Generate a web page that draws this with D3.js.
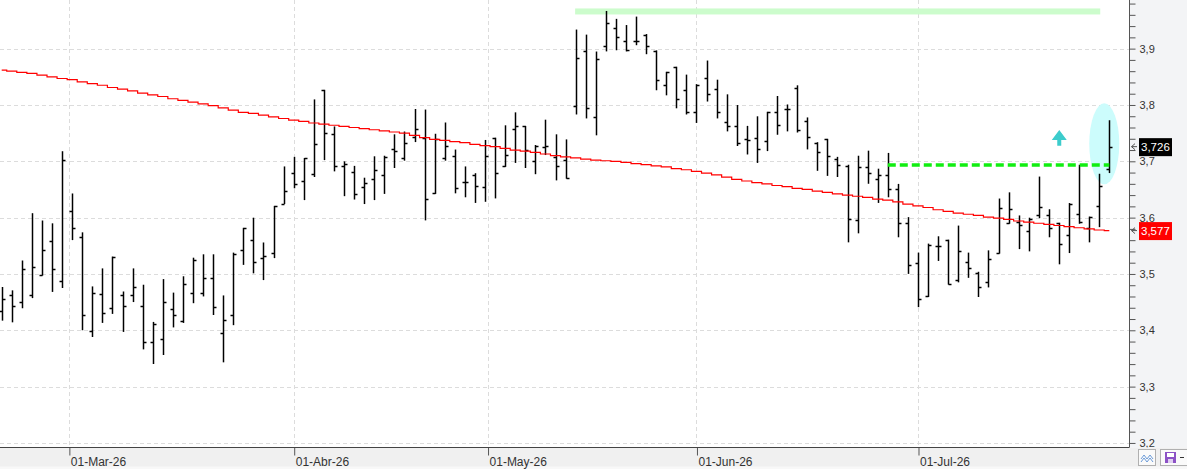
<!DOCTYPE html>
<html>
<head>
<meta charset="utf-8">
<script src="https://cdn.jsdelivr.net/npm/d3@7"></script>
<style>
  body { margin: 0; background: #fff; }
  svg { display: block; font-family: "Liberation Sans", Arial, sans-serif; }
</style>
</head>
<body>
<svg id="chart" width="1187" height="469"></svg>
<script>
// daily OHLC, one entry per trading day (19-Feb-26 .. 28-Jul-26)
var opens = [
  3.434,3.462,3.451,3.462,3.499,3.559,3.487,3.612,3.565,3.399,
  3.464,3.439,3.462,3.462,3.443,3.379,3.384,3.437,3.416,3.466,
  3.466,3.493,3.395,3.428,3.543,3.561,3.529,3.538,3.625,3.680,
  3.665,3.677,3.826,3.748,3.692,3.681,3.654,3.668,3.675,3.722,
  3.705,3.744,3.741,3.643,3.705,3.709,3.663,3.675,3.654,3.741,
  3.691,3.757,3.762,3.701,3.725,3.708,3.702,3.799,3.895,3.779,
  3.905,3.937,3.914,3.914,3.924,3.896,3.836,3.867,3.827,3.788,
  3.847,3.828,3.770,3.762,3.740,3.742,3.736,3.788,3.792,3.831,
  3.771,3.733,3.739,3.704,3.692,3.595,3.689,3.668,3.676,3.651,
  3.590,3.519,3.460,3.550,3.560,3.489,3.522,3.502,3.486,3.537,
  3.590,3.593,3.577,3.604,3.604,3.590,3.570,3.606,3.582,3.620,
  3.686];
var highs = [
  3.476,3.470,3.523,3.607,3.594,3.589,3.717,3.642,3.573,3.477,
  3.509,3.530,3.468,3.509,3.480,3.414,3.490,3.466,3.495,3.528,
  3.534,3.534,3.461,3.537,3.581,3.599,3.555,3.620,3.690,3.707,
  3.705,3.809,3.826,3.761,3.699,3.691,3.670,3.708,3.709,3.747,
  3.752,3.792,3.791,3.748,3.768,3.720,3.690,3.678,3.737,3.741,
  3.763,3.786,3.762,3.728,3.773,3.747,3.738,3.933,3.924,3.894,
  3.966,3.952,3.941,3.956,3.925,3.896,3.858,3.867,3.853,3.836,
  3.878,3.844,3.818,3.799,3.762,3.779,3.787,3.815,3.800,3.834,
  3.777,3.733,3.739,3.707,3.693,3.709,3.718,3.686,3.714,3.659,
  3.600,3.537,3.553,3.566,3.560,3.585,3.537,3.503,3.541,3.633,
  3.644,3.603,3.599,3.672,3.614,3.590,3.625,3.693,3.601,3.677,
  3.772];
var lows = [
  3.418,3.415,3.440,3.458,3.498,3.469,3.476,3.561,3.401,3.389,
  3.414,3.430,3.398,3.451,3.367,3.341,3.357,3.406,3.414,3.449,
  3.461,3.428,3.344,3.410,3.517,3.502,3.490,3.529,3.625,3.653,
  3.632,3.673,3.703,3.683,3.639,3.633,3.625,3.632,3.643,3.689,
  3.702,3.735,3.596,3.643,3.702,3.644,3.637,3.627,3.629,3.635,
  3.691,3.698,3.689,3.678,3.712,3.667,3.670,3.784,3.777,3.747,
  3.896,3.898,3.896,3.907,3.891,3.827,3.818,3.795,3.784,3.769,
  3.807,3.777,3.754,3.728,3.713,3.698,3.719,3.748,3.754,3.752,
  3.722,3.684,3.675,3.673,3.557,3.573,3.661,3.627,3.637,3.566,
  3.501,3.442,3.460,3.524,3.482,3.486,3.494,3.460,3.477,3.537,
  3.590,3.545,3.541,3.600,3.566,3.518,3.538,3.590,3.557,3.584,
  3.680];
var closes = [
  3.456,3.443,3.508,3.512,3.543,3.509,3.702,3.581,3.427,3.466,
  3.430,3.530,3.444,3.477,3.379,3.412,3.451,3.427,3.483,3.525,
  3.493,3.441,3.418,3.535,3.581,3.521,3.531,3.620,3.648,3.659,
  3.705,3.731,3.750,3.692,3.695,3.642,3.661,3.685,3.708,3.718,
  3.733,3.757,3.633,3.739,3.727,3.652,3.664,3.657,3.709,3.679,
  3.712,3.763,3.720,3.728,3.728,3.691,3.670,3.884,3.794,3.881,
  3.946,3.921,3.897,3.914,3.904,3.844,3.858,3.810,3.788,3.836,
  3.820,3.788,3.763,3.733,3.737,3.722,3.787,3.765,3.792,3.755,
  3.743,3.717,3.709,3.693,3.597,3.689,3.679,3.676,3.651,3.590,
  3.516,3.455,3.551,3.550,3.482,3.541,3.510,3.477,3.526,3.617,
  3.615,3.587,3.597,3.619,3.582,3.553,3.624,3.593,3.601,3.657,
  3.726];
// long moving average
var movingAvg = [
  3.862,3.860,3.858,3.856,3.853,3.850,3.847,3.845,3.841,3.838,
  3.835,3.831,3.828,3.825,3.821,3.818,3.815,3.811,3.808,3.805,
  3.802,3.799,3.795,3.791,3.787,3.785,3.782,3.779,3.776,3.773,
  3.771,3.768,3.766,3.764,3.762,3.760,3.758,3.756,3.754,3.752,
  3.750,3.746,3.742,3.739,3.737,3.735,3.733,3.730,3.728,3.726,
  3.723,3.720,3.718,3.716,3.713,3.710,3.708,3.706,3.704,3.702,
  3.701,3.700,3.698,3.696,3.694,3.692,3.690,3.687,3.685,3.682,
  3.679,3.676,3.672,3.668,3.665,3.662,3.660,3.657,3.655,3.652,
  3.650,3.647,3.645,3.642,3.640,3.638,3.636,3.633,3.631,3.628,
  3.624,3.621,3.618,3.614,3.611,3.608,3.606,3.604,3.601,3.599,
  3.597,3.594,3.592,3.590,3.588,3.586,3.584,3.582,3.580,3.578,
  3.577];

// month ticks, as (fractional) trading-day index
var monthTicks = [6.67, 29, 48.25, 69, 91];
var monthLabels = ['01-Mar-26', '01-Abr-26', '01-May-26', '01-Jun-26', '01-Jul-26'];
var priceGrid = [3.2, 3.3, 3.4, 3.5, 3.6, 3.7, 3.8, 3.9];

// drawn annotations
var resistance = { level: 3.966, from: 56.95, to: 109.1 };
var breakout = { level: 3.6935, from: 88, to: 110 };
var upArrow = { at: 105.03, level: 3.7556 };
var lastBarMark = { at: 109.5, level: 3.731 };
var lastPrice = 3.726;
var lastAvg = 3.577;

var W = 1187, H = 469;
var plotRight = 1129.5, plotBottom = 447.5;

var svg = d3.select('#chart');

var x = d3.scaleLinear().domain([0, 110]).range([1.7, 1109.3]);
var y = d3.scaleLinear().domain([3.2, 3.9]).range([442.95, 48.64]);
var fmt = function(v, d) { return v.toFixed(d).replace('.', ','); };

svg.append('rect').attr('width', W).attr('height', H).attr('fill', '#ffffff');

// grid
var grid = svg.append('g')
    .attr('stroke', '#dcdcdc')
    .attr('stroke-dasharray', '4,3')
    .attr('shape-rendering', 'crispEdges');
grid.selectAll('.hg').data(priceGrid).enter().append('line')
    .attr('x1', 0).attr('x2', plotRight)
    .attr('y1', function(d) { return Math.round(y(d)) + 0.5; })
    .attr('y2', function(d) { return Math.round(y(d)) + 0.5; });
grid.selectAll('.vg').data(monthTicks).enter().append('line')
    .attr('y1', 0).attr('y2', plotBottom)
    .attr('x1', function(d) { return Math.round(x(d)) + 0.5; })
    .attr('x2', function(d) { return Math.round(x(d)) + 0.5; });

// resistance band
svg.append('rect')
    .attr('x', x(resistance.from))
    .attr('y', y(resistance.level) - 3)
    .attr('width', x(resistance.to) - x(resistance.from))
    .attr('height', 6)
    .attr('fill', '#ccfccc');

// highlight round the last bar
svg.append('ellipse')
    .attr('cx', x(lastBarMark.at))
    .attr('cy', y(lastBarMark.level))
    .attr('rx', 15).attr('ry', 40.5)
    .attr('fill', '#ccfcfc');

// OHLC bars
var bars = svg.append('g').attr('stroke', '#000').attr('stroke-width', 1.5);
d3.range(opens.length).forEach(function(i) {
    var xi = Math.round(x(i)) + 0.5;
    bars.append('line').attr('x1', xi).attr('x2', xi)
        .attr('y1', y(highs[i]) - 0.5).attr('y2', y(lows[i]) + 0.5);
    bars.append('line').attr('x1', xi - 3).attr('x2', xi)
        .attr('y1', Math.round(y(opens[i])) + 0.5).attr('y2', Math.round(y(opens[i])) + 0.5);
    bars.append('line').attr('x1', xi).attr('x2', xi + 3)
        .attr('y1', Math.round(y(closes[i])) + 0.5).attr('y2', Math.round(y(closes[i])) + 0.5);
});

// moving average (stepped)
var maLine = d3.line()
    .x(function(d, i) { return x(i); })
    .y(function(d) { return y(d); })
    .curve(d3.curveStep);
svg.append('path')
    .datum(movingAvg)
    .attr('d', maLine)
    .attr('fill', 'none')
    .attr('stroke', '#ff0000')
    .attr('stroke-width', 1.2);

// breakout line
svg.append('line')
    .attr('x1', x(breakout.from)).attr('x2', x(breakout.to))
    .attr('y1', y(breakout.level)).attr('y2', y(breakout.level))
    .attr('stroke', '#11ee11')
    .attr('stroke-width', 3.5)
    .attr('stroke-dasharray', '8,4');

// up arrow
var ax = x(upArrow.at), ay = y(upArrow.level);
svg.append('path')
    .attr('d', 'M' + ax + ',' + ay + ' L' + (ax + 7.5) + ',' + (ay + 10) + ' L' + (ax + 2) + ',' + (ay + 10) +
        ' L' + (ax + 2) + ',' + (ay + 15.7) + ' L' + (ax - 2) + ',' + (ay + 15.7) + ' L' + (ax - 2) + ',' + (ay + 10) +
        ' L' + (ax - 7.5) + ',' + (ay + 10) + 'Z')
    .attr('fill', '#3ccccc');

// right axis panel
svg.append('rect').attr('x', plotRight + 0.5).attr('y', 0)
    .attr('width', W - plotRight).attr('height', plotBottom)
    .attr('fill', '#f3f4f6');

var minorTicks = d3.range(0, 40).map(function(k) { return 3.2 + k * 0.02; });
var yAxis = d3.axisRight(y)
    .tickValues(minorTicks)
    .tickSize(6)
    .tickPadding(4)
    .tickFormat(function(d) {
        var r = Math.round(d * 100);
        return r % 10 === 0 ? fmt(d, 1) : '';
    });
var yg = svg.append('g')
    .attr('transform', 'translate(' + plotRight + ',0)')
    .call(yAxis);
yg.select('.domain').remove();
yg.selectAll('line').attr('stroke', '#555');
yg.selectAll('text').attr('font-size', 11).attr('fill', '#333')
    .attr('font-family', '"Liberation Sans", Arial, sans-serif');
svg.append('line')
    .attr('x1', plotRight).attr('x2', plotRight)
    .attr('y1', 0).attr('y2', plotBottom)
    .attr('stroke', '#555');

// price tags
function priceTag(v, bg) {
    var cy = y(v);
    svg.append('rect')
        .attr('x', 1139).attr('y', cy - 8.5)
        .attr('width', 33).attr('height', 18)
        .attr('fill', bg);
    svg.append('text')
        .attr('x', 1141).attr('y', cy + 4.5)
        .attr('font-size', 11.5)
        .attr('fill', '#fff')
        .text(fmt(v, 3));
    svg.append('path')
        .attr('d', 'M1135,' + (cy - 3) + ' L1131.5,' + cy + ' L1135,' + (cy + 3) + ' M1131.5,' + cy + ' L1137,' + cy)
        .attr('fill', 'none')
        .attr('stroke', '#555');
}
priceTag(lastPrice, '#000');
priceTag(lastAvg, '#ff0000');

// bottom panel with date axis
svg.append('rect').attr('x', 0).attr('y', plotBottom)
    .attr('width', W).attr('height', H - plotBottom)
    .attr('fill', '#f0f0f0');
svg.append('rect').attr('x', 0).attr('y', 466.5)
    .attr('width', W).attr('height', 3)
    .attr('fill', '#f8f8f8');
var xAxis = d3.axisBottom(x)
    .tickValues(monthTicks)
    .tickSize(8)
    .tickPadding(2)
    .tickFormat(function(d, i) { return monthLabels[i]; });
var xg = svg.append('g')
    .attr('transform', 'translate(0,' + plotBottom + ')')
    .call(xAxis);
xg.select('.domain').remove();
xg.selectAll('.tick line').attr('stroke', '#555')
    .attr('transform', 'translate(0.5,0)');
xg.selectAll('text')
    .attr('text-anchor', 'start')
    .attr('x', 1.5)
    .attr('y', 10)
    .attr('dy', '0.72em')
    .attr('font-size', 12)
    .attr('fill', '#333')
    .attr('font-family', '"Liberation Sans", Arial, sans-serif');
svg.append('line')
    .attr('x1', 0).attr('x2', plotRight)
    .attr('y1', plotBottom).attr('y2', plotBottom)
    .attr('stroke', '#444');

// toolbar buttons
svg.append('rect').attr('x', 1138.5).attr('y', 449.5)
    .attr('width', 17).attr('height', 16)
    .attr('fill', '#fafafa').attr('stroke', '#b0b0b0');
svg.append('path')
    .attr('d', 'M1141,459 L1144,455 L1147,459 L1150,455 L1153,459 M1141,462 L1144,458 L1147,462 L1150,458 L1153,462')
    .attr('fill', 'none').attr('stroke', '#6a9ad8').attr('stroke-width', 1);
svg.append('rect').attr('x', 1160.5).attr('y', 449.5)
    .attr('width', 30).attr('height', 16)
    .attr('fill', '#fafafa').attr('stroke', '#b0b0b0');
svg.append('rect').attr('x', 1165).attr('y', 452)
    .attr('width', 11).attr('height', 11)
    .attr('fill', '#8c52c6');
svg.append('rect').attr('x', 1167).attr('y', 453)
    .attr('width', 7).attr('height', 4)
    .attr('fill', '#fff');
svg.append('rect').attr('x', 1168).attr('y', 459)
    .attr('width', 5).attr('height', 4)
    .attr('fill', '#e0d0f0');
svg.append('line').attr('x1', 1180).attr('x2', 1184)
    .attr('y1', 457.5).attr('y2', 457.5)
    .attr('stroke', '#333');
</script>
</body>
</html>
